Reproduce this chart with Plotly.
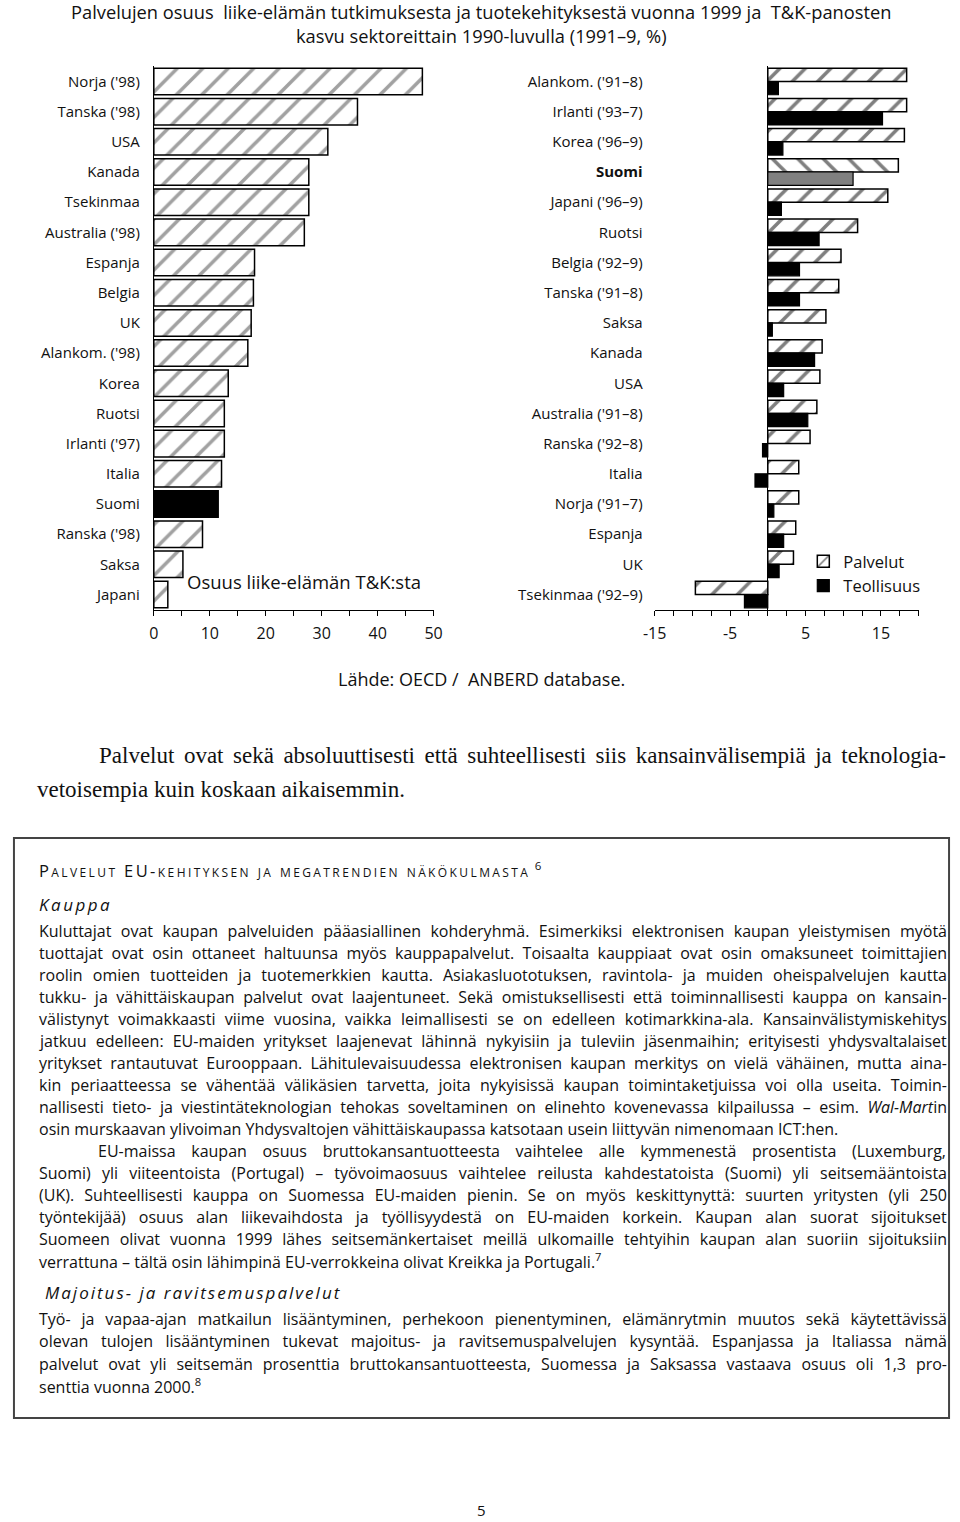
import json
import plotly.graph_objects as go

W, H = 960, 1522

# ---------------- data ----------------
left_countries = ["Norja ('98)", "Tanska ('98)", "USA", "Kanada", "Tsekinmaa",
                  "Australia ('98)", "Espanja", "Belgia", "UK", "Alankom. ('98)",
                  "Korea", "Ruotsi", "Irlanti ('97)", "Italia", "Suomi",
                  "Ranska ('98)", "Saksa", "Japani"]
left_share = [48.0, 36.4, 31.1, 27.7, 27.7, 26.9, 18.0, 17.8, 17.4, 16.8,
              13.3, 12.6, 12.6, 12.1, 11.5, 8.7, 5.2, 2.5]

right_countries = ["Alankom. ('91–8)", "Irlanti ('93–7)", "Korea ('96–9)", "Suomi",
                   "Japani ('96–9)", "Ruotsi", "Belgia ('92–9)", "Tanska ('91–8)",
                   "Saksa", "Kanada", "USA", "Australia ('91–8)", "Ranska ('92–8)",
                   "Italia", "Norja ('91–7)", "Espanja", "UK", "Tsekinmaa ('92–9)"]
palvelut_growth = [18.4, 18.4, 18.1, 17.3, 15.9, 11.9, 9.7, 9.4, 7.7, 7.2,
                   6.9, 6.5, 5.6, 4.1, 4.1, 3.7, 3.4, -9.6]
teollisuus_growth = [1.4, 15.2, 2.0, 11.3, 1.8, 6.8, 4.2, 4.2, 0.6, 6.2,
                     2.1, 5.3, -0.7, -1.7, 0.8, 2.1, 1.5, -3.1]

highlight = "Suomi"

right_tickvals = [-15, -5, 5, 15]
right_ticktext = ["-15", "-5", "5", "15"]

title_lines = ["Palvelujen osuus  liike-elämän tutkimuksesta ja tuotekehityksestä vuonna 1999 ja  T&K-panosten",
               "kasvu sektoreittain 1990-luvulla (1991–9, %)"]
left_note = "Osuus liike-elämän T&K:sta"
source_text = "Lähde: OECD /  ANBERD database."
serif_lines = ["Palvelut ovat sekä absoluuttisesti että suhteellisesti siis kansainvälisempiä ja teknologia-",
               "vetoisempia kuin koskaan aikaisemmin."]
box_heading = "Palvelut EU-kehityksen ja megatrendien näkökulmasta"
sub1 = "Kauppa"
body1 = [
    "Kuluttajat ovat kaupan palveluiden pääasiallinen kohderyhmä. Esimerkiksi elektronisen kaupan yleistymisen myötä",
    "tuottajat ovat osin ottaneet haltuunsa myös kauppapalvelut. Toisaalta kauppiaat ovat osin omaksuneet toimittajien",
    "roolin omien tuotteiden ja tuotemerkkien kautta. Asiakasluototuksen, ravintola- ja muiden oheispalvelujen kautta",
    "tukku- ja vähittäiskaupan palvelut ovat laajentuneet. Sekä omistuksellisesti että toiminnallisesti kauppa on kansain-",
    "välistynyt voimakkaasti viime vuosina, vaikka leimallisesti se on edelleen kotimarkkina-ala. Kansainvälistymiskehitys",
    "jatkuu edelleen: EU-maiden yritykset laajenevat lähinnä nykyisiin ja tuleviin jäsenmaihin; erityisesti yhdysvaltalaiset",
    "yritykset rantautuvat Eurooppaan. Lähitulevaisuudessa elektronisen kaupan merkitys on vielä vähäinen, mutta aina-",
    "kin periaatteessa se vähentää välikäsien tarvetta, joita nykyisissä kaupan toimintaketjuissa voi olla useita. Toimin-",
    "nallisesti tieto- ja viestintäteknologian tehokas soveltaminen on elinehto kovenevassa kilpailussa – esim. <i>Wal-Mart</i>in",
    "osin murskaavan ylivoiman Yhdysvaltojen vähittäiskaupassa katsotaan usein liittyvän nimenomaan ICT:hen.",
    "EU-maissa kaupan osuus bruttokansantuotteesta vaihtelee alle kymmenestä prosentista (Luxemburg,",
    "Suomi) yli viiteentoista (Portugal) – työvoimaosuus vaihtelee reilusta kahdestatoista (Suomi) yli seitsemääntoista",
    "(UK). Suhteellisesti kauppa on Suomessa EU-maiden pienin. Se on myös keskittynyttä: suurten yritysten (yli 250",
    "työntekijää) osuus alan liikevaihdosta ja työllisyydestä on EU-maiden korkein. Kaupan alan suorat sijoitukset",
    "Suomeen olivat vuonna 1999 lähes seitsemänkertaiset meillä ulkomaille tehtyihin kaupan alan suoriin sijoituksiin",
    "verrattuna – tältä osin lähimpinä EU-verrokkeina olivat Kreikka ja Portugali.<sup>7</sup>",
]
body1_last = {9, 15}
body1_indent = {10}
sub2 = "Majoitus- ja ravitsemuspalvelut"
body2 = [
    "Työ- ja vapaa-ajan matkailun lisääntyminen, perhekoon pienentyminen, elämänrytmin muutos sekä käytettävissä",
    "olevan tulojen lisääntyminen tukevat majoitus- ja ravitsemuspalvelujen kysyntää. Espanjassa ja Italiassa nämä",
    "palvelut ovat yli seitsemän prosenttia bruttokansantuotteesta, Suomessa ja Saksassa vastaava osuus oli 1,3 pro-",
    "senttia vuonna 2000.<sup>8</sup>",
]
body2_last = {3}
page_number = "5"

# ---------------- helpers ----------------
def px(x):
    return x / W

def py(y):
    return 1 - y / H

SANS = "Open Sans"
SERIF = "Liberation Serif"
INK = "#111111"

fig = go.Figure()

# left chart
fig.add_trace(go.Bar(
    y=left_countries, x=left_share, orientation="h",
    xaxis="x", yaxis="y", showlegend=False, name="Osuus",
    marker=dict(
        color=["black" if c == highlight else "white" for c in left_countries],
        line=dict(color="black", width=1.5),
        pattern=dict(shape=["" if c == highlight else "/" for c in left_countries],
                     fgcolor="black", bgcolor="white", size=18, solidity=0.2),
    ),
))

# right chart
fig.add_trace(go.Bar(
    y=right_countries, x=palvelut_growth, orientation="h",
    xaxis="x2", yaxis="y2", name="Palvelut",
    marker=dict(
        color="white",
        line=dict(color="black", width=1.5),
        pattern=dict(shape=["\\" if c == highlight else "/" for c in right_countries],
                     fgcolor="black", bgcolor="white", size=18, solidity=0.2),
    ),
))
fig.add_trace(go.Bar(
    y=right_countries, x=teollisuus_growth, orientation="h",
    xaxis="x2", yaxis="y2", name="Teollisuus",
    marker=dict(
        color=["#808080" if c == highlight else "black" for c in right_countries],
        line=dict(color="black", width=1.2),
    ),
))

ydom = [py(609.6), py(66.4)]
tickfont = dict(family=SANS, size=16, color=INK)
catfont = dict(family=SANS, size=15, color=INK)

fig.update_layout(
    width=W, height=H, autosize=False,
    margin=dict(l=0, r=0, t=0, b=0),
    paper_bgcolor="white", plot_bgcolor="white",
    barmode="group", bargap=0.12, bargroupgap=0.0,
    font=dict(family=SANS, color=INK),
    xaxis=dict(domain=[px(145), px(431)], anchor="y", range=[0, 50],
               tick0=0, dtick=10, ticks="outside", ticklen=5, tickcolor="black",
               showline=True, linecolor="black", linewidth=1,
               showgrid=False, zeroline=False, tickfont=tickfont,
               ticklabelstandoff=4,
               minor=dict(tickmode="linear", tick0=0, dtick=5, ticks="outside", ticklen=5,
                          tickcolor="black", showgrid=False)),
    yaxis=dict(domain=ydom, anchor="x", type="category",
               categoryorder="array", categoryarray=left_countries,
               range=[len(left_countries) - 0.5, -0.5],
               showline=True, linecolor="black", linewidth=1,
               ticks="", showgrid=False, zeroline=False,
               tickfont=catfont, ticklabelstandoff=10),
    xaxis2=dict(domain=[px(657), px(927)], anchor="y2", range=[-15, 20],
                tickmode="array", tickvals=right_tickvals, ticktext=right_ticktext,
                ticks="outside", ticklen=5, tickcolor="black",
                showline=True, linecolor="black", linewidth=1,
                showgrid=False, zeroline=True, zerolinecolor="black", zerolinewidth=1,
                tickfont=tickfont, ticklabelstandoff=4,
                minor=dict(tickmode="linear", tick0=0, dtick=2.5, ticks="outside", ticklen=5,
                           tickcolor="black", showgrid=False)),
    yaxis2=dict(domain=ydom, anchor="x2", type="category",
                categoryorder="array", categoryarray=right_countries,
                range=[len(right_countries) - 0.5, -0.5],
                tickmode="array", tickvals=right_countries,
                ticktext=["<b>%s</b>" % c if c == highlight else c for c in right_countries],
                showline=False, ticks="", showgrid=False, zeroline=False,
                tickfont=catfont, ticklabelstandoff=11),
    legend=dict(x=px(809), y=py(544), xanchor="left", yanchor="top",
                bgcolor="rgba(0,0,0,0)", font=dict(family=SANS, size=16.5, color=INK),
                traceorder="normal", tracegroupgap=0, itemwidth=30),
)

annotations = []
justify = []

def add(text, x, y, size, family=SANS, xanchor="left", target=None, align="left", **fontkw):
    annotations.append(dict(
        text=text, x=px(x), y=py(y), xref="paper", yref="paper",
        xanchor=xanchor, yanchor="middle", showarrow=False, align=align,
        borderpad=0,
        font=dict(family=family, size=size, color=INK, **fontkw),
    ))
    if target is not None:
        justify.append([len(annotations) - 1, target])

# title (two centred lines in one text block)
add("<br>".join(title_lines), 480, 23, 18.3, xanchor="center", align="center")
# chart note
add(left_note, 178, 581, 18.5)
# source
add(source_text, 480, 679, 18, xanchor="center")
# serif paragraph
add(serif_lines[0], 88, 755, 23, family=SERIF, target=847)
add(serif_lines[1], 25, 789, 23, family=SERIF)

# boxed text
add('<span style="letter-spacing:2.4px">%s</span> <sup>6</sup>' % box_heading,
    27, 870, 16.5, variant="small-caps")
add('<span style="letter-spacing:2.5px">%s</span>' % sub1, 27, 904, 17, style="italic")
BODY = 16
for i, line in enumerate(body1):
    x0 = 87 if i in body1_indent else 27
    tgt = None if i in body1_last else 935 - x0
    add(line, x0, 931 + 22 * i, BODY, target=tgt)
add('<span style="letter-spacing:2px">%s</span>' % sub2, 33, 1292, 17, style="italic")
for i, line in enumerate(body2):
    tgt = None if i in body2_last else 935 - 27
    add(line, 27, 1319 + 22.3 * i, BODY, target=tgt)
add(page_number, 480, 1510, 15, xanchor="center")

fig.update_layout(annotations=annotations)
fig.add_shape(type="rect", xref="paper", yref="paper",
              x0=px(2), x1=px(958), y0=py(1418), y1=py(838),
              line=dict(color="#444444", width=2), fillcolor="rgba(0,0,0,0)", layer="below")

post = """
(function(){
document.documentElement.style.margin = '0';
document.documentElement.style.padding = '0';
document.documentElement.style.overflow = 'hidden';
document.body.style.margin = '0';
document.body.style.padding = '0';
document.body.style.overflow = 'hidden';
var gd = document.getElementById('{plot_id}');
var J = %s;
function justify(){
  var groups = gd.querySelectorAll('g.annotation');
  J.forEach(function(item){
    var g = gd.querySelector('g.annotation[data-index="' + item[0] + '"]') || groups[item[0]];
    if(!g) return;
    var t = g.querySelector('text.annotation-text');
    if(!t) return;
    t.style.wordSpacing = '0px';
    var n = (t.textContent.match(/ /g) || []).length;
    if(!n) return;
    var w = t.getBBox().width;
    t.style.wordSpacing = ((item[1] - w) / n) + 'px';
  });
}
justify();
if(document.fonts && document.fonts.ready){ document.fonts.ready.then(justify); }
if(gd.on){ gd.on('plotly_afterplot', justify); }
})();
""" % json.dumps(justify)

fig.write_html("out.html", post_script=post, config={"displayModeBar": False})
